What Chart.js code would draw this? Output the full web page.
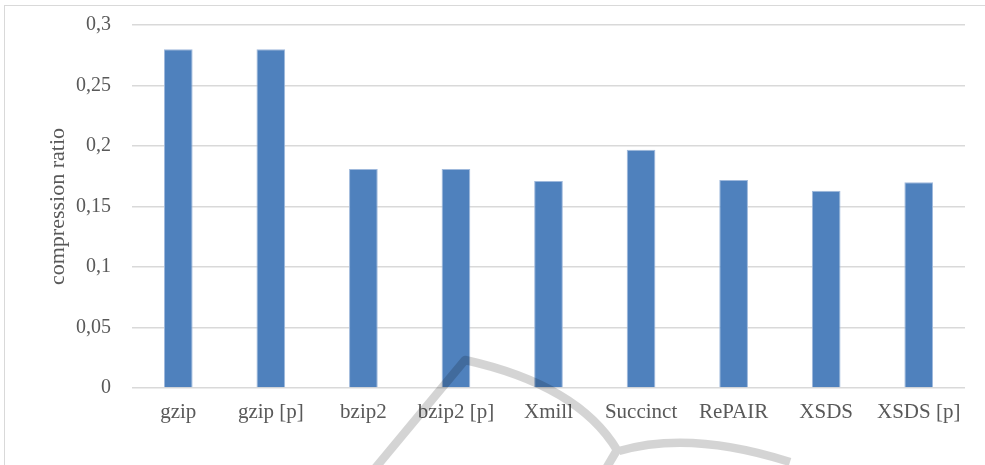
<!DOCTYPE html>
<html>
<head>
<meta charset="utf-8">
<script src="https://cdn.jsdelivr.net/npm/chart.js@4/dist/chart.umd.min.js"></script>
<style>
  html, body { margin: 0; padding: 0; background: #fff; }
  #wrap { position: relative; width: 985px; height: 465px; overflow: hidden; }
  #frame { position: absolute; left: 4px; top: 5px; width: 1000px; height: 500px;
           border-left: 1.5px solid #d9d9d9; border-top: 1.5px solid #d9d9d9; box-sizing: border-box; }
  canvas { position: absolute; left: 0; top: 0; }
</style>
</head>
<body>
<div id="wrap">
  <div id="frame"></div>
  <canvas id="c" width="985" height="465"></canvas>
</div>
<script>
// Compressors and their compression ratios
const categories = ['gzip', 'gzip [p]', 'bzip2', 'bzip2 [p]', 'Xmill', 'Succinct', 'RePAIR', 'XSDS', 'XSDS [p]'];
const ratios = [0.280, 0.280, 0.181, 0.181, 0.171, 0.197, 0.172, 0.163, 0.170];
const yTicks = [0, 0.05, 0.1, 0.15, 0.2, 0.25, 0.3];
const yTitle = 'compression ratio';

const textColor = '#595959';
const serif = "'Liberation Serif', 'Times New Roman', serif";

// Decorative grey logo strokes drawn over the plot (one path, so overlaps do not darken)
const logoStrokes = {
  id: 'logoStrokes',
  afterDraw(chart) {
    const ctx = chart.ctx;
    ctx.save();
    ctx.strokeStyle = 'rgba(0,0,0,0.17)';
    ctx.lineWidth = 8.5;
    ctx.lineCap = 'butt';
    ctx.lineJoin = 'round';
    ctx.beginPath();
    ctx.moveTo(372, 472);
    ctx.lineTo(465, 360);
    ctx.quadraticCurveTo(578, 385, 617, 450);
    ctx.lineTo(604, 472);
    ctx.moveTo(619, 451);
    ctx.quadraticCurveTo(690, 430, 790, 462);
    ctx.stroke();
    ctx.restore();
  }
};

new Chart(document.getElementById('c'), {
  type: 'bar',
  data: {
    labels: categories,
    datasets: [{
      data: ratios,
      backgroundColor: '#4f81bd',
      borderColor: '#9fb9dc',
      borderWidth: { top: 1, left: 1, right: 1, bottom: 0 },
      categoryPercentage: 1.0,
      barPercentage: 0.31
    }]
  },
  options: {
    responsive: false,
    animation: false,
    devicePixelRatio: 1,
    layout: { padding: { left: 0, right: 20, top: 25, bottom: 0 } },
    plugins: { legend: { display: false }, tooltip: { enabled: false } },
    scales: {
      x: {
        grid: { display: false, drawTicks: false },
        border: { display: false },
        ticks: {
          color: textColor, font: { family: serif, size: 21 }, padding: 12,
          maxRotation: 0, autoSkip: false
        },
        afterFit(scale) { scale.height = 77; }
      },
      y: {
        min: 0, max: 0.3,
        afterBuildTicks(scale) { scale.ticks = yTicks.map(v => ({ value: v })); },
        grid: { color: '#d9d9d9', lineWidth: 1.5, drawTicks: false },
        border: { display: false },
        ticks: {
          color: textColor, font: { family: serif, size: 20 }, padding: 21,
          callback: v => String(v).replace('.', ',')
        },
        title: {
          display: true, text: yTitle, color: textColor,
          font: { family: serif, size: 22 }, padding: { top: 45, bottom: 0 }
        },
        afterFit(scale) {
          scale.width = 132;
          scale.paddingTop = 12;
          scale.paddingBottom = 12;
        }
      }
    }
  },
  plugins: [logoStrokes]
});
</script>
</body>
</html>
